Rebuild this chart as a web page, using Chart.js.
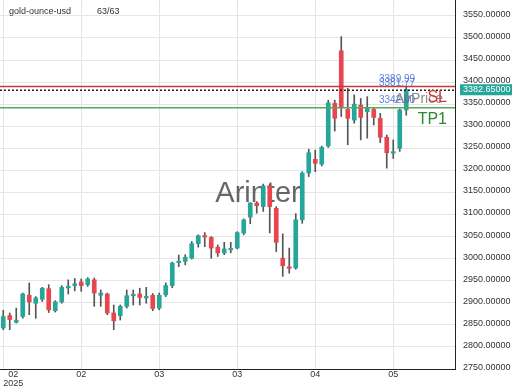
<!DOCTYPE html>
<html>
<head>
<meta charset="utf-8">
<script src="https://cdn.jsdelivr.net/npm/chart.js@4/dist/chart.umd.min.js"></script>
<style>
html,body{margin:0;padding:0;background:#fff;}
#wrap{width:520px;height:390px;}
</style>
</head>
<body>
<div id="wrap"><canvas id="c" width="520" height="390"></canvas></div>
<script>
// ---- data ----
const symbolName = "gold-ounce-usd";
const barCountText = "63/63";
const watermarkText = "Arinter";
const slotCount = 70;
const categories = Array.from({length: slotCount}, (_, i) => "d" + i);
const xTickIndex = [0, 12, 24, 36, 48, 60];
const xTickLabels = [["  02", "2025"], "02", "03", "03", "04", "05"];
const yTickValues = [2750,2800,2850,2900,2950,3000,3050,3100,3150,3200,3250,3300,3350,3400,3450,3500,3550];

const opens  = [2843,2871,2856,2869,2917,2899,2908,2932,2882,2902,2934,2939,2947,2941,2952,2917,2920,2877,2871,2892,2916,2920,2911,2917,2888,2918,2939,2991,2994,3001,3034,3051,3048,3026,3013,3020,3024,3058,3094,3126,3118,3165,3114,3001,2981,2979,3088,3194,3225,3214,3255,3352,3471,3338,3314,3348,3333,3338,3318,3275,3239,3250,3337];
const highs  = [2883,2877,2888,2922,2945,2914,2935,2941,2905,2939,2952,2955,2954,2957,2956,2929,2922,2895,2895,2929,2929,2933,2935,2921,2922,2945,2992,3008,3009,3039,3054,3059,3050,3031,3037,3037,3061,3090,3127,3129,3169,3169,3118,3056,3024,3102,3197,3248,3246,3255,3359,3359,3503,3386,3371,3363,3367,3341,3329,3280,3269,3339,3390];
const lows   = [2839,2839,2854,2865,2873,2865,2903,2878,2879,2899,2920,2927,2926,2937,2892,2892,2873,2839,2861,2888,2895,2895,2899,2882,2884,2914,2934,2982,2986,2999,3026,3027,3001,3005,3009,3013,3022,3054,3079,3103,3107,3058,3016,2960,2967,2976,3080,3186,3197,3210,3252,3289,3322,3258,3307,3269,3273,3303,3263,3205,3227,3243,3325];
const closes = [2869,2862,2860,2920,2902,2911,2933,2884,2902,2935,2937,2943,2939,2954,2922,2922,2877,2859,2892,2916,2919,2912,2913,2887,2917,2939,2990,2994,3003,3034,3052,3049,3024,3013,3022,3023,3059,3088,3126,3120,3165,3118,3037,2984,2978,3088,3194,3240,3216,3252,3353,3318,3343,3318,3350,3320,3341,3320,3275,3240,3242,3337,3382.65];

const currentPrice = 3382.65;
const levelValues = [3389.99, 3381.77, 3342.00];
const levelLabels = ["3389.99", "3381.77", "3342.00"];

// ---- chart ----
const upColor = '#26a69a', downColor = '#e8454f', wickColor = '#555555';
const bodyColors = opens.map((o, i) => closes[i] >= o ? upColor : downColor);
const FONT = "'Liberation Sans', Arial, sans-serif";

const overlay = {
  id: 'overlay',
  beforeDatasetsDraw(chart) {
    const {ctx} = chart;
    ctx.save();
    ctx.fillStyle = 'rgba(85,85,85,0.9)';
    ctx.font = "29px " + FONT;
    ctx.textAlign = 'center';
    ctx.textBaseline = 'alphabetic';
    ctx.fillText(watermarkText, 258, 202);
    ctx.restore();
  },
  afterDatasetsDraw(chart) {
    const {ctx, chartArea: a, scales: {y}} = chart;
    ctx.save();
    let py = y.getPixelForValue(levelValues[0]);
    ctx.strokeStyle = '#c93a3a'; ctx.lineWidth = 1.5; ctx.setLineDash([]);
    ctx.beginPath(); ctx.moveTo(a.left, py); ctx.lineTo(a.right, py); ctx.stroke();
    let pd = y.getPixelForValue(levelValues[1]);
    ctx.strokeStyle = '#222'; ctx.lineWidth = 1.5; ctx.setLineDash([2, 2]);
    ctx.beginPath(); ctx.moveTo(a.left, pd); ctx.lineTo(a.right, pd); ctx.stroke();
    ctx.setLineDash([]);
    let pt = y.getPixelForValue(levelValues[2]);
    ctx.strokeStyle = '#5aa55a'; ctx.lineWidth = 1.5;
    ctx.beginPath(); ctx.moveTo(a.left, pt); ctx.lineTo(a.right, pt); ctx.stroke();

    ctx.font = "10px " + FONT;
    ctx.fillStyle = 'rgba(80,115,215,0.9)';
    ctx.textAlign = 'left'; ctx.textBaseline = 'bottom';
    ctx.fillText(levelLabels[0], 379, py - 2);
    ctx.fillText(levelLabels[1], 379, pd - 2);
    ctx.fillText(levelLabels[2], 379, pt - 2);

    ctx.font = "14px " + FONT;
    ctx.fillStyle = 'rgba(110,110,110,0.8)';
    ctx.textBaseline = 'middle';
    ctx.fillText("AvPrice", 395, 99);

    ctx.font = "16px " + FONT;
    ctx.textAlign = 'right';
    ctx.fillStyle = '#d13b3b';
    ctx.fillText("SL", 447, 97.5);
    ctx.fillStyle = '#2e8b2e';
    ctx.fillText("TP1", 447, 120);
    ctx.restore();
  },
  afterDraw(chart) {
    const {ctx, scales: {y}} = chart;
    ctx.save();
    const cy = y.getPixelForValue(currentPrice);
    ctx.fillStyle = '#26a69a';
    ctx.fillRect(460, cy - 5.5, 52, 11);
    ctx.fillStyle = '#ffffff';
    ctx.font = "9px " + FONT;
    ctx.textAlign = 'left'; ctx.textBaseline = 'middle';
    ctx.fillText(currentPrice.toFixed(5), 463, cy);
    ctx.fillStyle = '#333';
    ctx.fillText(symbolName, 9, 12);
    ctx.fillText(barCountText, 97, 12);
    ctx.restore();
  }
};

new Chart(document.getElementById('c'), {
  type: 'bar',
  data: {
    labels: categories,
    datasets: [
      {
        data: lows.map((l, i) => [l, highs[i]]),
        backgroundColor: wickColor,
        barThickness: 1,
        grouped: false,
        order: 2
      },
      {
        data: opens.map((o, i) => [o, closes[i]]),
        backgroundColor: bodyColors,
        barThickness: 4,
        minBarLength: 1.5,
        grouped: false,
        order: 1
      }
    ]
  },
  options: {
    responsive: false,
    animation: false,
    layout: {padding: 0},
    plugins: {legend: {display: false}, tooltip: {enabled: false}},
    scales: {
      x: {
        type: 'category',
        offset: true,
        grid: {
          offset: false,
          drawTicks: false,
          color: ctx => xTickIndex.includes(ctx.index) ? '#e4e4e4' : 'rgba(0,0,0,0)'
        },
        border: {display: true, color: '#222', width: 1},
        ticks: {
          autoSkip: false, maxRotation: 0, minRotation: 0, padding: 1.5, align: 'inner',
          color: '#333', font: {size: 9, family: FONT, lineHeight: 0.95},
          callback: (v, i) => { const k = xTickIndex.indexOf(i); return k < 0 ? '' : xTickLabels[k]; }
        },
        afterFit: s => { s.height = 21; s.paddingLeft = 0; s.paddingRight = 0; s.paddingTop = 0; s.paddingBottom = 0; }
      },
      y: {
        position: 'right',
        min: 2750, max: 3586,
        afterBuildTicks: s => { s.ticks = yTickValues.map(v => ({value: v})); },
        grid: {color: '#e6e6e6', drawTicks: false},
        border: {display: true, color: '#222', width: 1},
        ticks: {
          color: '#333', font: {size: 9, family: FONT}, padding: 8, labelOffset: -1.5,
          autoSkip: false,
          callback: v => Number(v).toFixed(5)
        },
        afterFit: s => { s.width = 65; s.paddingTop = 0; s.paddingBottom = 0; s.paddingLeft = 0; s.paddingRight = 0; }
      }
    }
  },
  plugins: [overlay]
});
</script>
</body>
</html>
